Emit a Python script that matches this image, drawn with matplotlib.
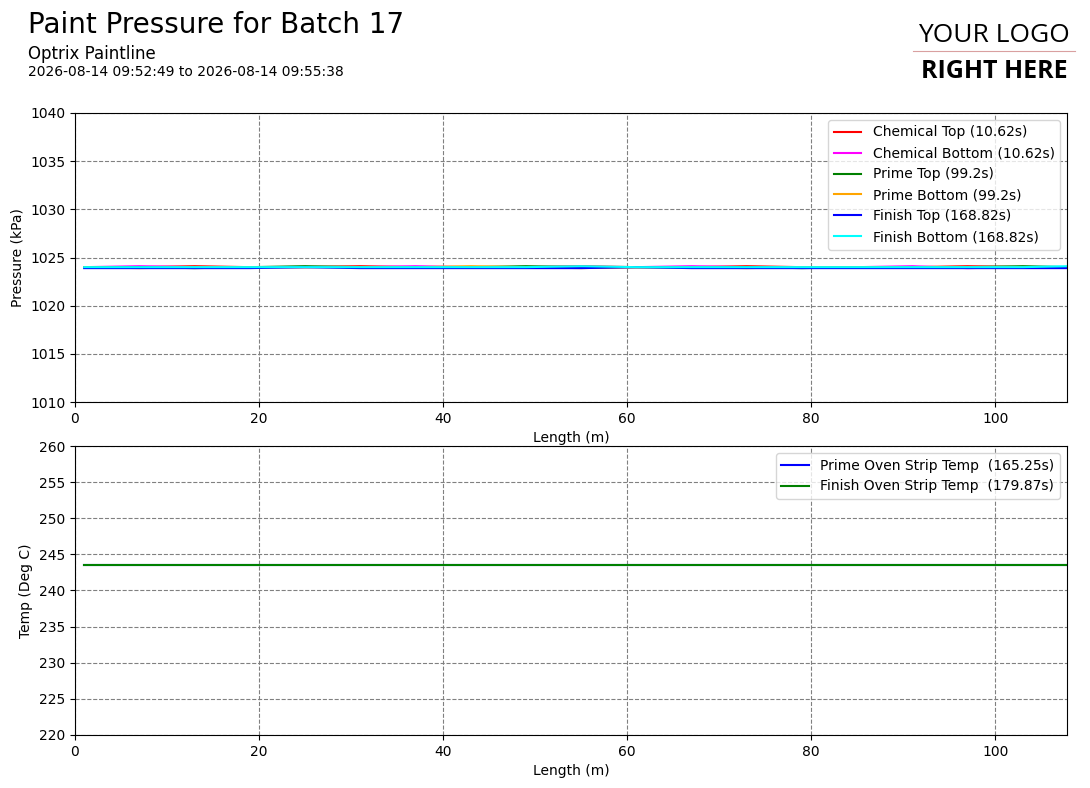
import matplotlib
matplotlib.use('Agg')
import matplotlib.pyplot as plt

# sample positions along the strip (m)
length = [1, 7, 13, 19, 25, 31, 37, 43, 49, 55, 61, 67, 73, 79, 85, 91, 97, 103, 108]

# pressure traces (kPa)
chem_top = [1024.0, 1024.0, 1024.1, 1024.0, 1024.0, 1024.1, 1024.0, 1024.0, 1024.0, 1024.1,
            1024.0, 1024.0, 1024.1, 1024.0, 1024.0, 1024.0, 1024.1, 1024.0, 1024.0]
chem_bottom = [1024.0, 1024.1, 1024.0, 1024.0, 1024.0, 1024.0, 1024.1, 1024.0, 1024.0, 1024.0,
               1024.0, 1024.1, 1024.0, 1024.0, 1024.0, 1024.1, 1023.9, 1024.0, 1024.0]
prime_top = [1024.0, 1024.0, 1023.9, 1024.0, 1024.1, 1024.0, 1024.0, 1024.0, 1024.1, 1024.0,
             1024.0, 1024.0, 1024.0, 1023.9, 1024.0, 1024.0, 1024.0, 1024.1, 1024.0]
prime_bottom = [1024.0, 1023.9, 1024.0, 1024.0, 1024.0, 1024.0, 1024.0, 1024.1, 1024.0, 1023.9,
                1024.0, 1024.0, 1023.9, 1024.0, 1024.0, 1024.0, 1024.0, 1024.0, 1024.0]
finish_top = [1023.9, 1023.9, 1023.9, 1023.9, 1024.0, 1023.9, 1023.9, 1023.9, 1023.9, 1023.9,
              1024.0, 1023.9, 1023.9, 1023.9, 1023.9, 1023.9, 1023.9, 1023.9, 1023.9]
finish_bottom = [1024.0, 1024.0, 1024.0, 1024.0, 1024.0, 1024.0, 1024.0, 1024.0, 1024.0, 1024.1,
                 1024.0, 1024.0, 1024.0, 1024.0, 1024.0, 1024.0, 1024.0, 1024.0, 1024.1]

# oven strip temperatures (deg C)
prime_oven = [243.5] * len(length)
finish_oven = [243.5] * len(length)

fig = plt.figure(figsize=(10.9, 7.88), dpi=100)

fig.text(0.026, 0.968, 'Paint Pressure for Batch 17', fontsize=20, va='center')
fig.text(0.026, 0.931, 'Optrix Paintline', fontsize=12, va='center')
fig.text(0.026, 0.909, '2026-08-14 09:52:49 to 2026-08-14 09:55:38', fontsize=10, va='center')

# logo placeholder
fig.text(0.912, 0.955, 'YOUR LOGO', fontsize=19, family='Open Sans', ha='center', va='center')
fig.add_artist(plt.Line2D([0.838, 0.986], [0.935, 0.935], color='#d9a0a0', lw=0.8))
fig.text(0.912, 0.909, 'RIGHT HERE', fontsize=18, family='Open Sans', weight='bold',
         ha='center', va='center')

ax1 = fig.add_axes([0.0688, 0.4898, 0.9101, 0.3668])
ax1.plot(length, chem_top, color='red', label='Chemical Top (10.62s)')
ax1.plot(length, chem_bottom, color='magenta', label='Chemical Bottom (10.62s)')
ax1.plot(length, prime_top, color='green', label='Prime Top (99.2s)')
ax1.plot(length, prime_bottom, color='orange', label='Prime Bottom (99.2s)')
ax1.plot(length, finish_top, color='blue', label='Finish Top (168.82s)')
ax1.plot(length, finish_bottom, color='cyan', label='Finish Bottom (168.82s)')
ax1.set_xlim(0, 107.8)
ax1.set_ylim(1010, 1040)
ax1.set_xlabel('Length (m)')
ax1.set_ylabel('Pressure (kPa)')
ax1.grid(True, linestyle='--', color='gray')
ax1.legend(loc='upper right')

ax2 = fig.add_axes([0.0688, 0.0673, 0.9101, 0.3667])
ax2.plot(length, prime_oven, color='blue', label='Prime Oven Strip Temp  (165.25s)')
ax2.plot(length, finish_oven, color='green', label='Finish Oven Strip Temp  (179.87s)')
ax2.set_xlim(0, 107.8)
ax2.set_ylim(220, 260)
ax2.set_xlabel('Length (m)')
ax2.set_ylabel('Temp (Deg C)')
ax2.grid(True, linestyle='--', color='gray')
ax2.legend(loc='upper right')

plt.savefig('out.png', dpi=100)
